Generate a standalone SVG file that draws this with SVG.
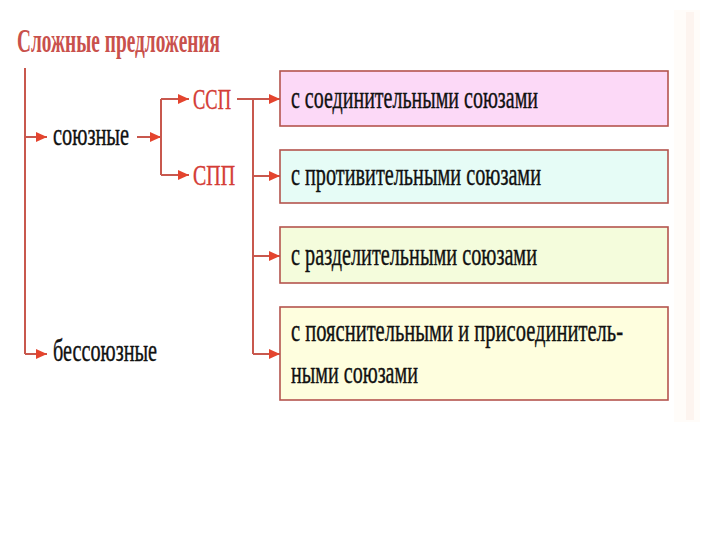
<svg xmlns="http://www.w3.org/2000/svg" width="720" height="540" viewBox="0 0 720 540">
<defs>
<marker id="ah" markerUnits="userSpaceOnUse" markerWidth="12" markerHeight="10" refX="11" refY="5" orient="auto">
<path d="M0,0 L11,5 L0,10 Z" fill="#e4442e"/>
</marker>
<style>
.t{font-family:"Liberation Serif","Times New Roman",serif;font-size:31px;fill:#111;stroke:#111;stroke-width:0.4;}
.title{font-weight:bold;fill:#c9514c;stroke:none;font-size:34px;}
.red{fill:#d43c36;stroke:#d43c36;font-size:29px;}
.ln{fill:none;stroke:#c8584e;stroke-width:2;}
.ar{fill:none;stroke:#c8584e;stroke-width:2;marker-end:url(#ah);}
.box{stroke:#b4544e;stroke-width:1.6;}
</style>
</defs>
<rect width="720" height="540" fill="#ffffff"/>
<rect x="674" y="10" width="26" height="412" fill="#fffcf9"/>
<rect x="686" y="12" width="8" height="408" fill="#fdf4ef"/>
<text class="t title" x="17" y="52" textLength="203" lengthAdjust="spacingAndGlyphs">Сложные предложения</text>
<g id="connectors">
<line class="ln" x1="25" y1="68" x2="25" y2="354"/>
<line class="ar" x1="25" y1="137" x2="47" y2="137"/>
<line class="ar" x1="25" y1="354" x2="47" y2="354"/>
<line class="ar" x1="137" y1="137" x2="161" y2="137"/>
<line class="ln" x1="161" y1="99" x2="161" y2="175"/>
<line class="ar" x1="161" y1="99" x2="189" y2="99"/>
<line class="ar" x1="161" y1="175" x2="189" y2="175"/>
<line class="ar" x1="237" y1="99" x2="280" y2="99"/>
<line class="ln" x1="253" y1="99" x2="253" y2="354"/>
<line class="ar" x1="253" y1="176" x2="280" y2="176"/>
<line class="ar" x1="253" y1="256" x2="280" y2="256"/>
<line class="ar" x1="253" y1="354" x2="280" y2="354"/>
</g>
<g id="soyuznye"><text class="t" x="53" y="145" textLength="76" lengthAdjust="spacingAndGlyphs">союзные</text></g>
<g id="bessoyuznye"><text class="t" x="53" y="361" textLength="104" lengthAdjust="spacingAndGlyphs">бессоюзные</text></g>
<g id="ssp"><text class="t red" x="193" y="109" textLength="38" lengthAdjust="spacingAndGlyphs">ССП</text></g>
<g id="spp"><text class="t red" x="193" y="185" textLength="42" lengthAdjust="spacingAndGlyphs">СПП</text></g>
<g id="box1">
<rect class="box" x="280" y="71" width="388" height="55" fill="#fcd9f7"/>
<text class="t" x="291" y="108" textLength="247" lengthAdjust="spacingAndGlyphs">с соединительными союзами</text>
</g>
<g id="box2">
<rect class="box" x="280" y="150" width="388" height="53" fill="#e6fcf6"/>
<text class="t" x="291" y="185" textLength="250" lengthAdjust="spacingAndGlyphs">с противительными союзами</text>
</g>
<g id="box3">
<rect class="box" x="280" y="227" width="388" height="56" fill="#f4fcdc"/>
<text class="t" x="291" y="265" textLength="246" lengthAdjust="spacingAndGlyphs">с разделительными союзами</text>
</g>
<g id="box4">
<rect class="box" x="280" y="307" width="388" height="93" fill="#fefede"/>
<text class="t" x="291" y="341" textLength="332" lengthAdjust="spacingAndGlyphs">с пояснительными и присоединитель-</text>
<text class="t" x="291" y="383" textLength="127" lengthAdjust="spacingAndGlyphs">ными союзами</text>
</g>
</svg>
